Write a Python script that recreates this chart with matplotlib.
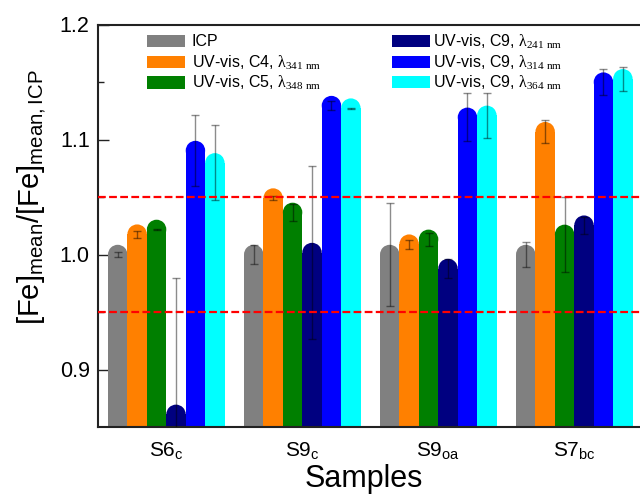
import matplotlib
matplotlib.use("Agg")
import matplotlib.pyplot as plt
from matplotlib.patches import Ellipse, Rectangle
import numpy as np

plt.rcParams['font.family'] = ['Liberation Sans', 'DejaVu Sans']
plt.rcParams['mathtext.fontset'] = 'custom'
plt.rcParams['mathtext.rm'] = 'Liberation Sans'
plt.rcParams['mathtext.sf'] = 'Liberation Sans'
plt.rcParams['mathtext.it'] = 'Liberation Sans:italic'
plt.rcParams['mathtext.bf'] = 'Liberation Sans:bold'
plt.rcParams['mathtext.tt'] = 'Liberation Serif'

# ---- data ----
samples = [r'S6$_{\mathrm{c}}$', r'S9$_{\mathrm{c}}$', r'S9$_{\mathrm{oa}}$', r'S7$_{\mathrm{bc}}$']
series_labels = ['ICP',
                 r'UV-vis, C4, $\mathtt{\lambda_{341\ nm}}$',
                 r'UV-vis, C5, $\mathtt{\lambda_{348\ nm}}$',
                 r'UV-vis, C9, $\mathtt{\lambda_{241\ nm}}$',
                 r'UV-vis, C9, $\mathtt{\lambda_{314\ nm}}$',
                 r'UV-vis, C9, $\mathtt{\lambda_{364\ nm}}$']
colors = ['#808080', '#FF8000', '#007F00', '#000080', '#0000FF', '#00FFFF']

icp = [1.000, 1.000, 1.000, 1.000]
icp_err = [0.0022, 0.0083, 0.0448, 0.0109]
c4_341 = [1.0177, 1.0491, 1.0090, 1.1068]
c4_341_err = [0.0030, 0.0020, 0.0040, 0.0102]
c5_348 = [1.0218, 1.0366, 1.0132, 1.0175]
c5_348_err = [0.0005, 0.0077, 0.0054, 0.0326]
c9_241 = [0.8610, 1.0017, 0.9878, 1.0255]
c9_241_err = [0.1190, 0.0753, 0.0084, 0.0073]
c9_314 = [1.0904, 1.1295, 1.1193, 1.1499]
c9_314_err = [0.0305, 0.0042, 0.0208, 0.0110]
c9_364 = [1.0797, 1.1273, 1.1210, 1.1528]
c9_364_err = [0.0327, 0.0005, 0.0195, 0.0102]

values = [icp, c4_341, c5_348, c9_241, c9_314, c9_364]
errors = [icp_err, c4_341_err, c5_348_err, c9_241_err, c9_314_err, c9_364_err]
ref_lines = [1.05, 0.95]

# ---- figure ----
W, H = 640, 495
fig = plt.figure(figsize=(W / 100, H / 100), dpi=100)
ax = fig.add_axes([98 / W, 68 / H, 548 / W, 402.5 / H])

xmin, xmax = -3.515, 24.69
ymin, ymax = 0.85, 1.2
ax.set_xlim(xmin, xmax)
ax.set_ylim(ymin, ymax)

centers = np.arange(len(samples)) * 7.0
offsets = np.arange(6) - 2.5
bw = 1.0
px_x = 548 / (xmax - xmin)
px_y = 402.5 / (ymax - ymin)
cap_h = bw * px_x / px_y

for k in range(6):
    xs = centers + offsets[k]
    vals = np.array(values[k])
    ax.bar(xs, vals, width=bw, bottom=0.0, color=colors[k], linewidth=0, zorder=2)
    for xi, vi in zip(xs, vals):
        ax.add_patch(Ellipse((xi, vi), bw, cap_h, facecolor=colors[k], edgecolor='none', zorder=2))
    ax.errorbar(xs, vals, yerr=errors[k], fmt='none', ecolor='black', alpha=0.45,
                elinewidth=1.0, capsize=2.6, capthick=1.0, zorder=4)

for yl in ref_lines:
    ax.axhline(yl, color='red', linestyle=(0, (3.5, 1.5)), linewidth=1.6, zorder=5)

ax.set_xticks(centers)
ax.set_xticklabels(samples)
ax.set_yticks([0.9, 1.0, 1.1, 1.2])
ax.set_yticklabels(['0.9', '1.0', '1.1', '1.2'])
ax.set_yticks([0.95, 1.05, 1.15], minor=True)
ax.tick_params(axis='y', which='major', direction='in', length=8, width=1.0,
               labelsize=15.5, pad=6, color='#222222')
ax.tick_params(axis='y', which='minor', direction='in', length=4, width=1.0, color='#222222')
ax.tick_params(axis='x', which='both', length=0, labelsize=15, pad=10)

for s in ['left', 'top', 'bottom']:
    ax.spines[s].set_linewidth(1.5)
    ax.spines[s].set_color('#222222')
ax.spines['right'].set_visible(False)

fig.text(32 / W, 1 - 197 / H, r'[Fe]$_{\mathrm{mean}}$/[Fe]$_{\mathrm{mean,ICP}}$',
         rotation=90, ha='center', va='center', fontsize=21)
fig.text(364 / W, 8 / H, 'Samples', ha='center', va='baseline', fontsize=22)

# ---- legend (two columns) ----
leg_cols = [(147, 191.5, [41, 62, 82.5]), (392, 433, [41, 62, 82])]
idx = 0
for px, tx, rows in leg_cols:
    for ry in rows:
        fig.add_artist(Rectangle((px / W, 1 - (ry + 6) / H), 38 / W, 12 / H,
                                 transform=fig.transFigure, facecolor=colors[idx],
                                 edgecolor='none'))
        fig.text(tx / W, 1 - (ry + 5.5) / H, series_labels[idx], ha='left',
                 va='baseline', fontsize=11.5)
        idx += 1

fig.savefig('out.png', dpi=100)
